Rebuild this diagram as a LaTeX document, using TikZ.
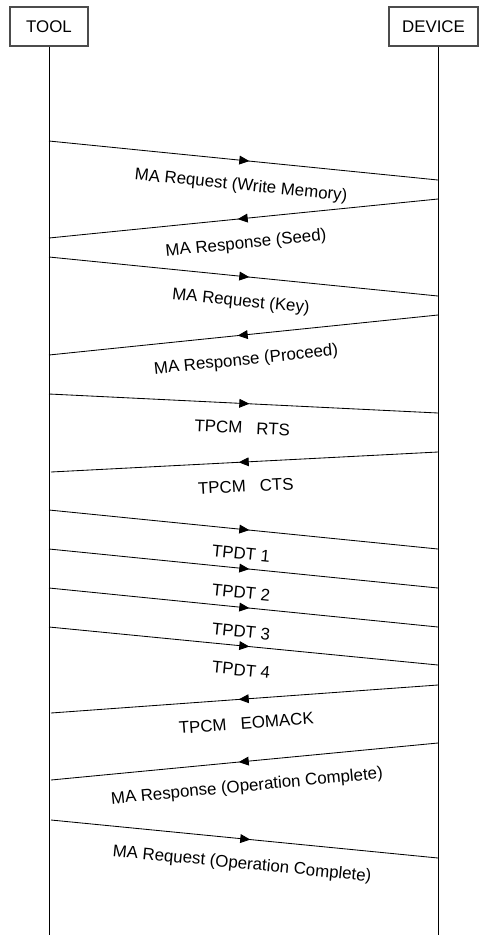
\documentclass[tikz,border=0pt]{standalone}
\usepackage{fontspec}
\setmainfont{Liberation Sans}
\usetikzlibrary{arrows.meta, decorations.markings, positioning}

\begin{document}
\begin{tikzpicture}[x=0.025cm, y=-0.025cm, font=\fontsize{12}{14}\selectfont]
 % We define the styles for the actors, lifelines and messages
 \tikzset{
actor/.style = {draw=black!70, rectangle, line width=0.8pt, minimum width=1.95cm, minimum height=0.975cm, inner sep=0pt},
life/.style = {draw, line width=0.7pt},
msg/.style = {draw, line width=0.6pt, postaction={decorate}, decoration={markings, mark=at position 0.515 with {\arrow{Triangle[length=0.25cm, width=0.22cm]}}}},
lbl/.style = {midway, sloped, below=12.5pt, inner sep=0pt, text height=8.5pt, text depth=0pt},
}
 \useasboundingbox (0,0) rectangle (479,935);

 % Actors and lifelines
 \node [actor] (tool) at (49,26.5) {TOOL};
 \node [actor, minimum width=2.225cm] (device) at (433.5,26.5) {DEVICE};
 \coordinate (toolend) at (49,935);
 \coordinate (devend) at (438,935);
 \draw [life] (tool.south) -- (toolend);
 \draw [life] (device.south -| devend) -- (devend);

 % Memory access handshake
 \coordinate (t1) at (49,141);
 \coordinate (d1) at (438,180);
 \draw [msg] (t1) -- (d1) node[lbl] {MA Request (Write Memory)};
 \coordinate (d2) at (438,199);
 \coordinate (t2) at (49,238);
 \draw [msg] (d2) -- (t2) node[lbl] {MA Response (Seed)};
 \coordinate (t3) at (49,257);
 \coordinate (d3) at (438,296);
 \draw [msg] (t3) -- (d3) node[lbl] {MA Request (Key)};
 \coordinate (d4) at (438,315);
 \coordinate (t4) at (49,355);
 \draw [msg] (d4) -- (t4) node[lbl] {MA Response (Proceed)};

 % Transport protocol connection
 \coordinate (t5) at (49,394);
 \coordinate (d5) at (438,413);
 \draw [msg] (t5) -- (d5) node[lbl] {TPCM~~~RTS};
 \coordinate (d6) at (438,452);
 \coordinate (t6) at (51,472);
 \draw [msg] (d6) -- (t6) node[lbl] {TPCM~~~CTS};

 % Data packets
 \coordinate (t7) at (49,510);
 \coordinate (d7) at (438,549);
 \draw [msg] (t7) -- (d7) node[lbl] {TPDT 1};
 \coordinate (t8) at (49,549);
 \coordinate (d8) at (438,588);
 \draw [msg] (t8) -- (d8) node[lbl] {TPDT 2};
 \coordinate (t9) at (49,588);
 \coordinate (d9) at (438,627);
 \draw [msg] (t9) -- (d9) node[lbl] {TPDT 3};
 \coordinate (t10) at (49,627);
 \coordinate (d10) at (438,665);
 \draw [msg] (t10) -- (d10) node[lbl] {TPDT 4};

 % End of message and completion
 \coordinate (d11) at (438,685);
 \coordinate (t11) at (51,713);
 \draw [msg] (d11) -- (t11) node[lbl] {TPCM~~~EOMACK};
 \coordinate (d12) at (438,743);
 \coordinate (t12) at (51,780);
 \draw [msg] (d12) -- (t12) node[lbl] {MA Response (Operation Complete)};
 \coordinate (t13) at (51,820);
 \coordinate (d13) at (438,858);
 \draw [msg] (t13) -- (d13) node[lbl] {MA Request (Operation Complete)};

\end{tikzpicture}
\end{document}
